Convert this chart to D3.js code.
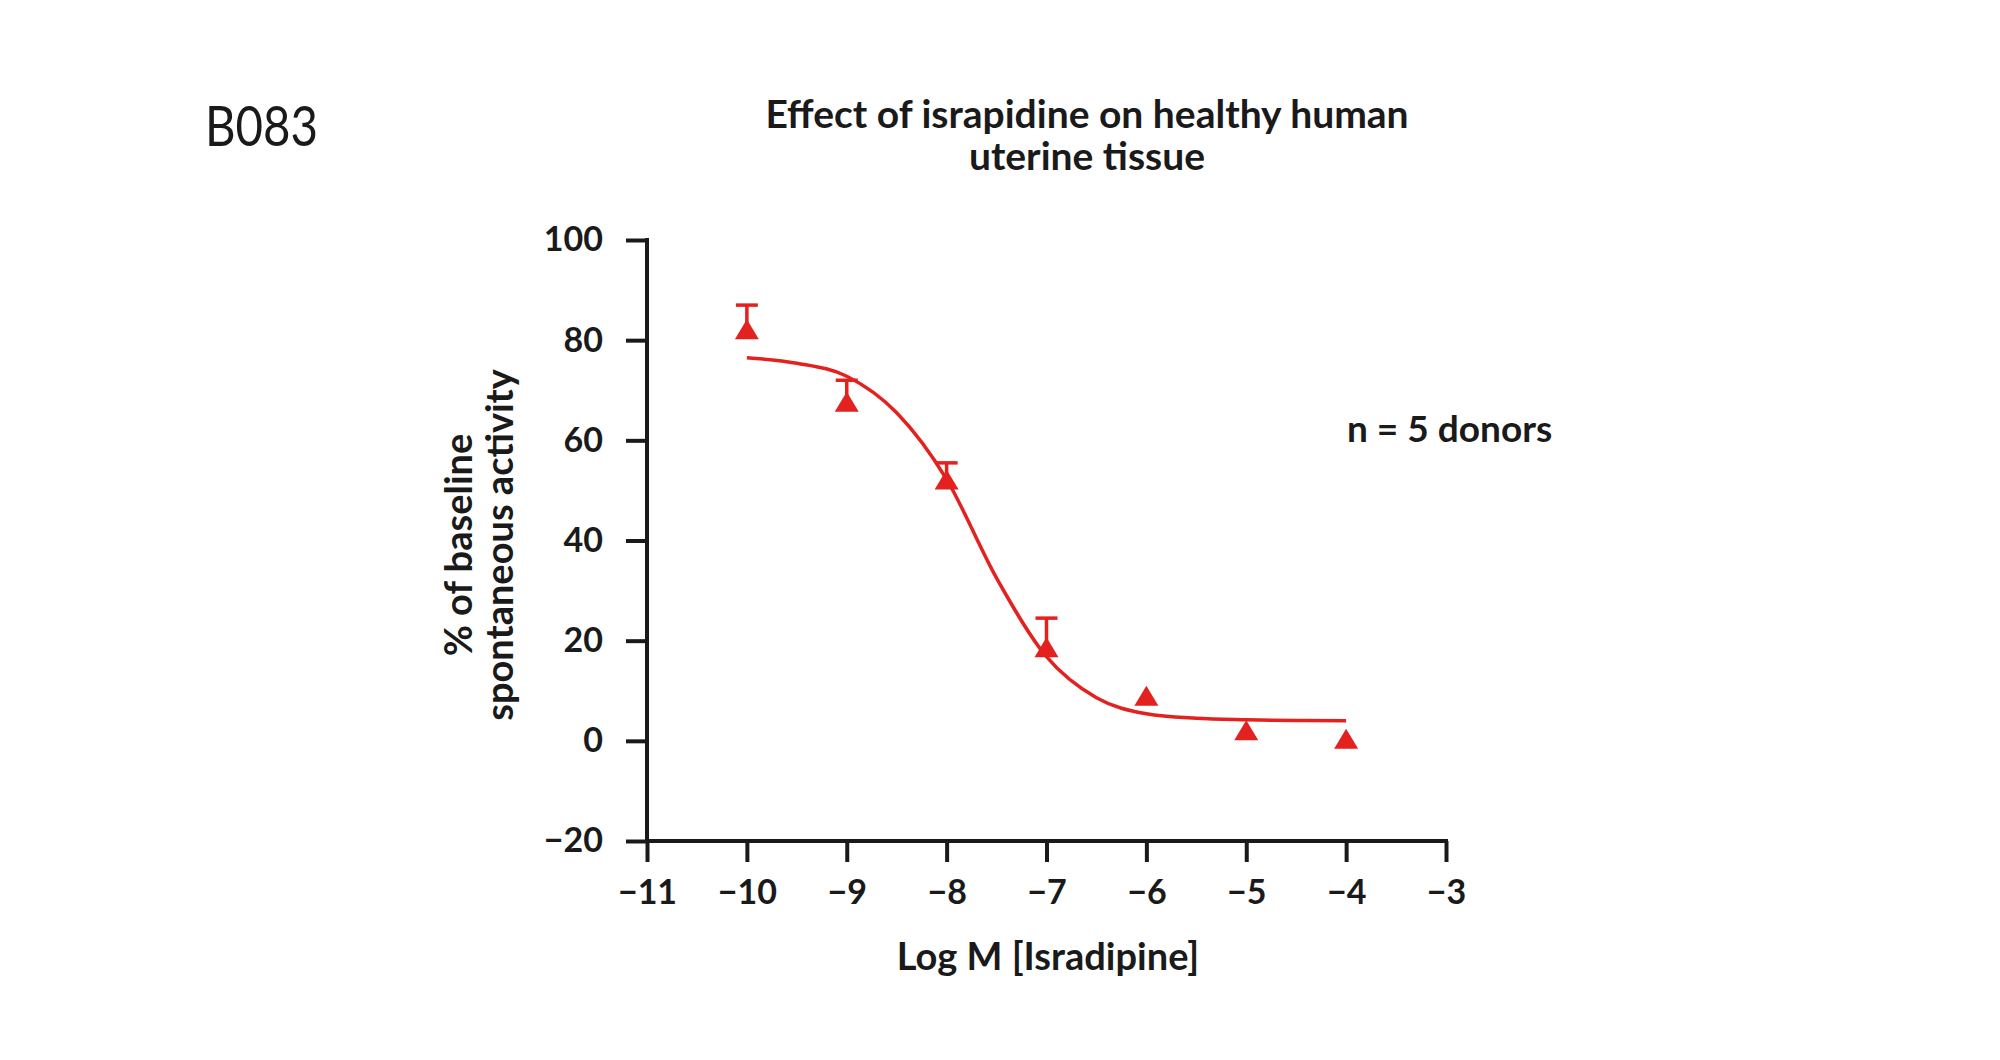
<!DOCTYPE html>
<html><head><meta charset="utf-8">
<script src="https://cdn.jsdelivr.net/npm/d3@7"></script>
<style>body{margin:0;background:#fff}svg{display:block}</style>
</head><body>
<svg id="chart" width="2000" height="1060"></svg>
<script>
// ---- data ----
const logConc   = [-10, -9, -8, -7, -6, -5, -4];
const meanResp  = [82, 67.5, 52, 18.5, 8.8, 1.9, 0.2];
const semResp   = [5, 4.5, 3.5, 6, 0.8, 0.5, 0.3];
const fitX      = [-10, -9.5, -9, -8.5, -8, -7.5, -7, -6.5, -6, -5.5, -5, -4.5, -4];
const fitY      = [76.5, 75.4, 72.8, 65.5, 52.2, 32.5, 16.8, 8.6, 5.4, 4.5, 4.2, 4.05, 4.0];
const xTicks    = [-11, -10, -9, -8, -7, -6, -5, -4, -3];
const yTicks    = [-20, 0, 20, 40, 60, 80, 100];

const svg = d3.select("#chart");
const red = "#e3211e";
const ink = "#1a1a1a";
const font = "Lato, 'Open Sans', sans-serif";
const minus = s => String(s).replace("-", "\u2212");

const x = d3.scaleLinear().domain([-11, -3]).range([647, 1446]);
const y = d3.scaleLinear().domain([-20, 100]).range([841, 240]);

// axes
const xAxis = svg.append("g").attr("transform", `translate(0,${y(-20)})`)
  .call(d3.axisBottom(x).tickValues(xTicks).tickSize(21).tickPadding(18).tickFormat(minus));
const yAxis = svg.append("g").attr("transform", `translate(${x(-11)},0)`)
  .call(d3.axisLeft(y).tickValues(yTicks).tickSize(21).tickPadding(23).tickFormat(minus));
[xAxis, yAxis].forEach(a => {
  a.select(".domain").attr("stroke", ink).attr("stroke-width", 4).attr("stroke-linecap","square");
  a.selectAll(".tick line").attr("stroke", ink).attr("stroke-width", 4);
  a.selectAll(".tick text").attr("fill", ink).style("font-family", font)
   .style("font-weight", "700").style("font-size", "34px");
});
xAxis.select(".domain").attr("d", `M${x(-11)},0H${x(-3)}`);
yAxis.select(".domain").attr("d", `M0,${y(-20)}V${y(100)}`);

// fitted curve
const pts = fitX.map((v, i) => [v, fitY[i]]);
svg.append("path").datum(pts)
  .attr("d", d3.line().x(d => x(d[0])).y(d => y(d[1])).curve(d3.curveMonotoneX))
  .attr("fill", "none").attr("stroke", red).attr("stroke-width", 3.5);

// error bars (upper only)
const eb = svg.append("g").attr("stroke", red).attr("stroke-width", 3.5);
logConc.forEach((c, i) => {
  const cx = x(c), y0 = y(meanResp[i]), y1 = y(meanResp[i] + semResp[i]);
  if (y0 - y1 < 10) return;
  eb.append("line").attr("x1", cx).attr("x2", cx).attr("y1", y0).attr("y2", y1);
  eb.append("line").attr("x1", cx - 11).attr("x2", cx + 11).attr("y1", y1).attr("y2", y1);
});

// triangle markers
svg.append("g").selectAll("path").data(logConc).join("path")
  .attr("transform", (c, i) => `translate(${x(c)},${y(meanResp[i])})`)
  .attr("d", "M0,-11L12,9L-12,9Z").attr("fill", red);

// texts
svg.append("text").attr("x", 205).attr("y", 146).text("B083")
  .attr("textLength", 113).attr("lengthAdjust", "spacingAndGlyphs")
  .style("font-family", font).style("font-size", "57px").attr("fill", ink);
const title = svg.append("text").attr("text-anchor", "middle")
  .style("font-family", font).style("font-weight", "700").style("font-size", "39px").attr("fill", ink);
title.append("tspan").attr("x", 1087).attr("y", 128).text("Effect of israpidine on healthy human");
title.append("tspan").attr("x", 1087).attr("y", 170).text("uterine tissue");

svg.append("text").attr("x", 1048).attr("y", 970).attr("text-anchor", "middle")
  .text("Log M [Isradipine]").style("font-family", font).style("font-weight", "700")
  .style("font-size", "38px").attr("fill", ink);

const yl = svg.append("text").attr("transform", "translate(0,545) rotate(-90)")
  .attr("text-anchor", "middle").style("font-family", font).style("font-weight", "700")
  .style("font-size", "38px").attr("fill", ink);
yl.append("tspan").attr("x", 0).attr("y", 472).text("% of baseline");
yl.append("tspan").attr("x", 0).attr("y", 513).text("spontaneous activity");

svg.append("text").attr("x", 1347).attr("y", 442).text("n = 5 donors")
  .style("font-family", font).style("font-weight", "700").style("font-size", "37px").attr("fill", ink);
</script>
</body></html>
